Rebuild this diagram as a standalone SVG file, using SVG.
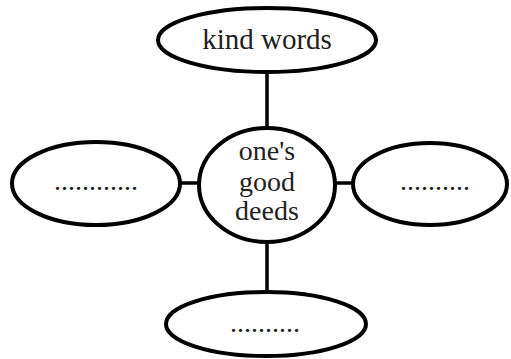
<svg xmlns="http://www.w3.org/2000/svg" width="511" height="359" viewBox="0 0 511 359">
<style>
.n{fill:#fff;stroke:#000;stroke-width:4}
.c{stroke:#000;stroke-width:3.5;fill:none}
.t{font-family:'Liberation Serif','DejaVu Serif',serif;font-size:28px;fill:#222;text-anchor:middle}
</style>
<rect width="511" height="359" fill="#fff"/>
<g id="connectors">
<line class="c" x1="267" y1="72" x2="267" y2="128"/>
<line class="c" x1="267" y1="242" x2="267" y2="292"/>
<line class="c" x1="180" y1="183" x2="199" y2="183"/>
<line class="c" x1="335" y1="183" x2="352" y2="183"/>
</g>
<g id="top">
<ellipse class="n" cx="267" cy="40" rx="109" ry="32"/>
<text class="t" x="267" y="49" style="font-size:29px">kind words</text>
</g>
<g id="center">
<ellipse class="n" cx="267" cy="185" rx="68" ry="57"/>
<text class="t" x="267" y="160">one's</text>
<text class="t" x="267" y="191">good</text>
<text class="t" x="267" y="220">deeds</text>
</g>
<g id="left">
<ellipse class="n" cx="96" cy="183.5" rx="84" ry="41.5"/>
<text class="t" x="96" y="190">............</text>
</g>
<g id="right">
<ellipse class="n" cx="430" cy="184" rx="77" ry="41"/>
<text class="t" x="435" y="190">..........</text>
</g>
<g id="bottom">
<ellipse class="n" cx="266" cy="324" rx="100" ry="32"/>
<text class="t" x="265" y="332">..........</text>
</g>
</svg>
